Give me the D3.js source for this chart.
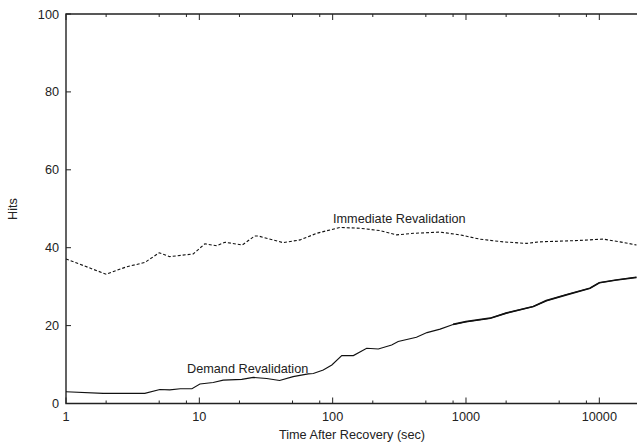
<!DOCTYPE html>
<html><head><meta charset="utf-8">
<script src="https://cdn.jsdelivr.net/npm/d3@7"></script>
<style>body{margin:0;background:#fff}svg{display:block}text{font-family:"Liberation Sans",Arial,Helvetica,sans-serif;fill:#222}</style>
</head><body>
<script>
const yTicks = [0, 20, 40, 60, 80, 100];
const xMajorTicks = [1, 10, 100, 1000, 10000];
const xMinorFactors = [2, 5, 8];

const immediateT = [1, 2, 2.85, 3.9, 5, 6, 9, 11, 13.5, 15.6, 21, 26, 27.7, 42.4, 57, 76, 113, 160, 226, 302, 405, 640, 900, 1270, 1900, 2850, 3560, 6400, 10700, 14300, 19000];
const immediateHits = [37.1, 33.2, 35.1, 36.2, 38.7, 37.7, 38.4, 41, 40.5, 41.4, 40.7, 43, 43, 41.3, 42, 43.7, 45.2, 45, 44.4, 43.3, 43.7, 44, 43.3, 42.2, 41.5, 41.1, 41.5, 41.8, 42.2, 41.5, 40.7];

const demandT = [1, 1.9, 3.9, 5.06, 6, 7.2, 8.8, 10.1, 12.7, 15.1, 20.8, 25.4, 32, 40, 50.5, 65.6, 71.6, 85, 98.6, 117, 143, 180, 220, 277, 310, 425, 510, 640, 800, 1000, 1520, 2000, 3200, 4000, 5650, 8500, 10000, 13400, 19000];
const demandHits = [3.0, 2.6, 2.6, 3.6, 3.5, 3.8, 3.8, 5.0, 5.4, 6.0, 6.2, 6.7, 6.4, 5.9, 6.9, 7.6, 7.7, 8.6, 9.9, 12.3, 12.3, 14.2, 14.0, 15.0, 15.9, 17.0, 18.2, 19.1, 20.3, 21.0, 21.9, 23.2, 24.9, 26.4, 27.9, 29.6, 31.0, 31.7, 32.4];

(function () {
const W = 637, H = 445;
const pLeft = 66, pRight = 637, pTop = 14, pBottom = 403.5;
const decade = 133.33;
const xMax = Math.pow(10, (pRight - pLeft) / decade);
const fs = 12.7;

const svg = d3.select("body").append("svg").attr("width", W).attr("height", H);
const x = d3.scaleLog().domain([1, xMax]).range([pLeft, pRight]);
const y = d3.scaleLinear().domain([0, 100]).range([pBottom, pTop]);

const axisColor = "#222";
const g = svg.append("g");

const minorTicks = [];
xMajorTicks.forEach(m => xMinorFactors.forEach(f => { if (m * f <= xMax) minorTicks.push(m * f); }));

g.selectAll(".xmaj").data(xMajorTicks).join("line")
  .attr("x1", d => x(d)).attr("x2", d => x(d)).attr("y1", pBottom).attr("y2", pBottom - 6)
  .attr("stroke", axisColor).attr("stroke-width", 1);
g.selectAll(".xmin").data(minorTicks).join("line")
  .attr("x1", d => x(d)).attr("x2", d => x(d)).attr("y1", pBottom).attr("y2", pBottom - 3)
  .attr("stroke", axisColor).attr("stroke-width", 1);
g.selectAll(".xmajt").data(xMajorTicks).join("line")
  .attr("x1", d => x(d)).attr("x2", d => x(d)).attr("y1", pTop).attr("y2", pTop + 6)
  .attr("stroke", axisColor).attr("stroke-width", 1);
g.selectAll(".xmint").data(minorTicks).join("line")
  .attr("x1", d => x(d)).attr("x2", d => x(d)).attr("y1", pTop).attr("y2", pTop + 3)
  .attr("stroke", axisColor).attr("stroke-width", 1);
g.selectAll(".yt").data(yTicks).join("line")
  .attr("x1", pLeft).attr("x2", pLeft + 5).attr("y1", d => y(d)).attr("y2", d => y(d))
  .attr("stroke", axisColor).attr("stroke-width", 1);

g.append("path").attr("d", `M${pRight + 2},${pTop}H${pLeft}V${pBottom}H${pRight + 2}`)
  .attr("fill", "none").attr("stroke", axisColor).attr("stroke-width", 1.4);

g.selectAll(".xl").data(xMajorTicks).join("text")
  .attr("x", d => x(d)).attr("y", pBottom + 17).attr("text-anchor", "middle")
  .attr("font-size", fs).text(d => d);
g.selectAll(".yl").data(yTicks).join("text")
  .attr("x", pLeft - 7).attr("y", d => y(d) + 4.5).attr("text-anchor", "end")
  .attr("font-size", fs).text(d => d);

svg.append("text").attr("x", 352).attr("y", 439).attr("text-anchor", "middle")
  .attr("font-size", fs).text("Time After Recovery (sec)");
svg.append("text").attr("transform", "translate(17,209) rotate(-90)").attr("text-anchor", "middle")
  .attr("font-size", fs).text("Hits");

const line = d3.line().x(d => x(d[0])).y(d => y(d[1])).curve(d3.curveLinear);
const immData = immediateT.map((t, i) => [t, immediateHits[i]]);
const demData = demandT.map((t, i) => [t, demandHits[i]]);

svg.append("clipPath").attr("id", "clip").append("rect")
  .attr("x", pLeft).attr("y", pTop).attr("width", pRight - pLeft).attr("height", pBottom - pTop);

svg.append("path").datum(immData).attr("d", line).attr("clip-path", "url(#clip)")
  .attr("fill", "none").attr("stroke", "#111").attr("stroke-width", 1.1)
  .attr("stroke-dasharray", "3,2");
svg.append("path").datum(demData).attr("d", line).attr("clip-path", "url(#clip)")
  .attr("fill", "none").attr("stroke", "#111").attr("stroke-width", 1.1);
svg.append("path").datum(demData.filter(d => d[0] >= 800)).attr("d", line).attr("clip-path", "url(#clip)")
  .attr("fill", "none").attr("stroke", "#111").attr("stroke-width", 1.7);

svg.append("text").attr("x", 333).attr("y", 223).attr("font-size", fs).text("Immediate Revalidation");
svg.append("text").attr("x", 187).attr("y", 373).attr("font-size", fs).text("Demand Revalidation");
})();
</script>
</body></html>
